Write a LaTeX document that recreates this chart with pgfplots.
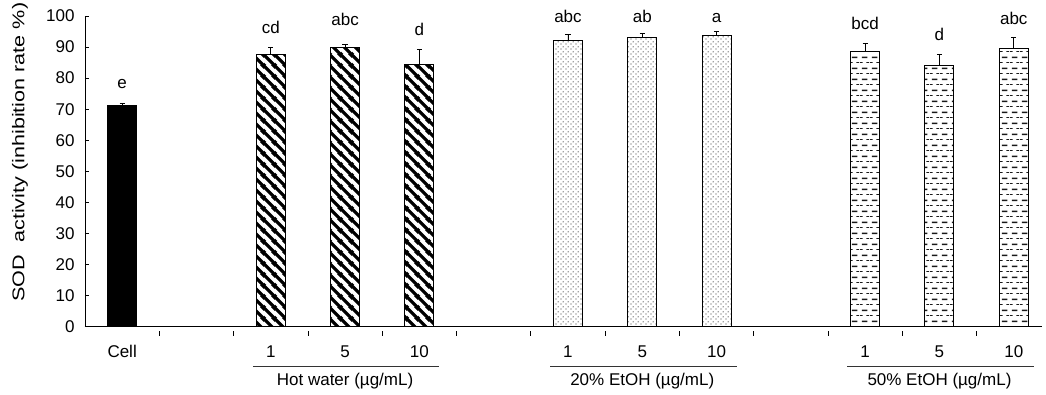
\documentclass[border=0pt]{standalone}
\usepackage{pgfplots}
\pgfplotsset{compat=1.18}
\usepackage{pgfplotstable}
\usepackage{fontspec}
\setmainfont{Liberation Sans}
\usetikzlibrary{patterns}
\newcommand\fs{\fontsize{17}{20}\selectfont}

\pgfdeclarepatternformonly{hwstripe}{\pgfpointorigin}{\pgfpoint{11pt}{11pt}}{\pgfpoint{11pt}{11pt}}{%
 \pgfsetlinewidth{3.6pt}%
 \pgfpathmoveto{\pgfpoint{-2pt}{2pt}}\pgfpathlineto{\pgfpoint{2pt}{-2pt}}%
 \pgfpathmoveto{\pgfpoint{-2pt}{13pt}}\pgfpathlineto{\pgfpoint{13pt}{-2pt}}%
 \pgfpathmoveto{\pgfpoint{9pt}{13pt}}\pgfpathlineto{\pgfpoint{13pt}{9pt}}%
 \pgfusepath{stroke}}
\pgfdeclarepatternformonly{dotsp}{\pgfpointorigin}{\pgfpoint{5pt}{5pt}}{\pgfpoint{5pt}{5pt}}{%
 \pgfpathcircle{\pgfpoint{1.25pt}{1.25pt}}{0.75pt}%
 \pgfpathcircle{\pgfpoint{3.75pt}{3.75pt}}{0.75pt}%
 \pgfusepath{fill}}
\pgfdeclarepatternformonly{dashp}{\pgfpointorigin}{\pgfpoint{10pt}{11pt}}{\pgfpoint{10pt}{11pt}}{%
 \pgfsetlinewidth{1.8pt}%
 \pgfpathmoveto{\pgfpoint{2pt}{8.25pt}}\pgfpathlineto{\pgfpoint{8pt}{8.25pt}}%
 \pgfusepath{stroke}%
 \pgfsetlinewidth{0.8pt}%
 \pgfpathmoveto{\pgfpoint{7pt}{2.75pt}}\pgfpathlineto{\pgfpoint{10pt}{2.75pt}}%
 \pgfpathmoveto{\pgfpoint{0pt}{2.75pt}}\pgfpathlineto{\pgfpoint{3pt}{2.75pt}}%
 \pgfusepath{stroke}}

\pgfplotstableread{
x y e
0 71.3 0.5
}\cell
\pgfplotstableread{
x y e
2 87.7 2.1
3 89.9 0.9
4 84.4 4.8
}\hw
\pgfplotstableread{
x y e
6 92.2 2.0
7 93.0 1.3
8 93.8 1.2
}\etA
\pgfplotstableread{
x y e
10 88.5 2.6
11 84.1 3.6
12 89.5 3.5
}\etB

\begin{document}
\begin{tikzpicture}
\useasboundingbox (-85pt,-67.3pt) rectangle (961pt,326.7pt);
\begin{axis}[
  scale only axis, width=957pt, height=310.7pt,
  xmin=-0.5, xmax=12.38, ymin=0, ymax=100,
  axis x line*=bottom, axis y line*=left,
  axis line style={line width=0.8pt, black},
  xtick={0.5,1.5,...,11.5}, xticklabels={},
  ytick={0,10,...,100},
  tick align=inside, major tick length=4.5pt,
  tick style={line width=0.8pt, black},
  x tick style={yshift=-4.5pt},
  ticklabel style={font=\fs},
  /pgf/number format/assume math mode=true,
  yticklabel style={xshift=-7pt},
  clip=false,
  ybar, bar width=29pt,
  every axis plot/.append style={bar shift=0pt, draw=black, line width=1pt,
    error bars/y dir=plus, error bars/y explicit,
    error bars/error bar style={line width=0.9pt, black},
    error bars/error mark options={rotate=90, mark size=2.6pt, line width=0.9pt, black}},
]
\addplot[fill=black] table[x=x, y=y, y error=e]{\cell};
\addplot[pattern=hwstripe, pattern color=black] table[x=x, y=y, y error=e]{\hw};
\addplot[pattern=dotsp, pattern color=black!75] table[x=x, y=y, y error=e]{\etA};
\addplot[pattern=dashp, pattern color=black!90] table[x=x, y=y, y error=e]{\etB};

% significance letters
\node[anchor=base, font=\fs] at (axis cs:0,76.8) {e};
\node[anchor=base, font=\fs] at (axis cs:2,94.5) {cd};
\node[anchor=base, font=\fs] at (axis cs:3,96.8) {abc};
\node[anchor=base, font=\fs] at (axis cs:4,93.7) {d};
\node[anchor=base, font=\fs] at (axis cs:6,97.8) {abc};
\node[anchor=base, font=\fs] at (axis cs:7,97.8) {ab};
\node[anchor=base, font=\fs] at (axis cs:8,97.8) {a};
\node[anchor=base, font=\fs] at (axis cs:10,95.5) {bcd};
\node[anchor=base, font=\fs] at (axis cs:11,92.0) {d};
\node[anchor=base, font=\fs] at (axis cs:12,97.3) {abc};

% category labels
\node[anchor=base, font=\fs] at ([yshift=-31pt]axis cs:0,0) {Cell};
\node[anchor=base, font=\fs] at ([yshift=-31pt]axis cs:2,0) {1};
\node[anchor=base, font=\fs] at ([yshift=-31pt]axis cs:3,0) {5};
\node[anchor=base, font=\fs] at ([yshift=-31pt]axis cs:4,0) {10};
\node[anchor=base, font=\fs] at ([yshift=-31pt]axis cs:6,0) {1};
\node[anchor=base, font=\fs] at ([yshift=-31pt]axis cs:7,0) {5};
\node[anchor=base, font=\fs] at ([yshift=-31pt]axis cs:8,0) {10};
\node[anchor=base, font=\fs] at ([yshift=-31pt]axis cs:10,0) {1};
\node[anchor=base, font=\fs] at ([yshift=-31pt]axis cs:11,0) {5};
\node[anchor=base, font=\fs] at ([yshift=-31pt]axis cs:12,0) {10};
% group lines and labels
\draw[line width=0.9pt, black!80] ([yshift=-39.3pt]axis cs:1.76,0) -- ([yshift=-39.3pt]axis cs:4.27,0);
\draw[line width=0.9pt, black!80] ([yshift=-39.3pt]axis cs:5.76,0) -- ([yshift=-39.3pt]axis cs:8.27,0);
\draw[line width=0.9pt, black!80] ([yshift=-39.3pt]axis cs:9.76,0) -- ([yshift=-39.3pt]axis cs:12.27,0);
\node[anchor=base, font=\fs] at ([yshift=-59pt]axis cs:3,0) {Hot water (µg/mL)};
\node[anchor=base, font=\fs] at ([yshift=-59pt]axis cs:7,0) {20\% EtOH (µg/mL)};
\node[anchor=base, font=\fs] at ([yshift=-59pt]axis cs:11,0) {50\% EtOH (µg/mL)};

% y label
\node[rotate=90, font=\fs, xscale=1.27] at (axis description cs:-0.068,0.562) {SOD\ \ activity (inhibition rate \%)};
\end{axis}
\end{tikzpicture}
\end{document}
